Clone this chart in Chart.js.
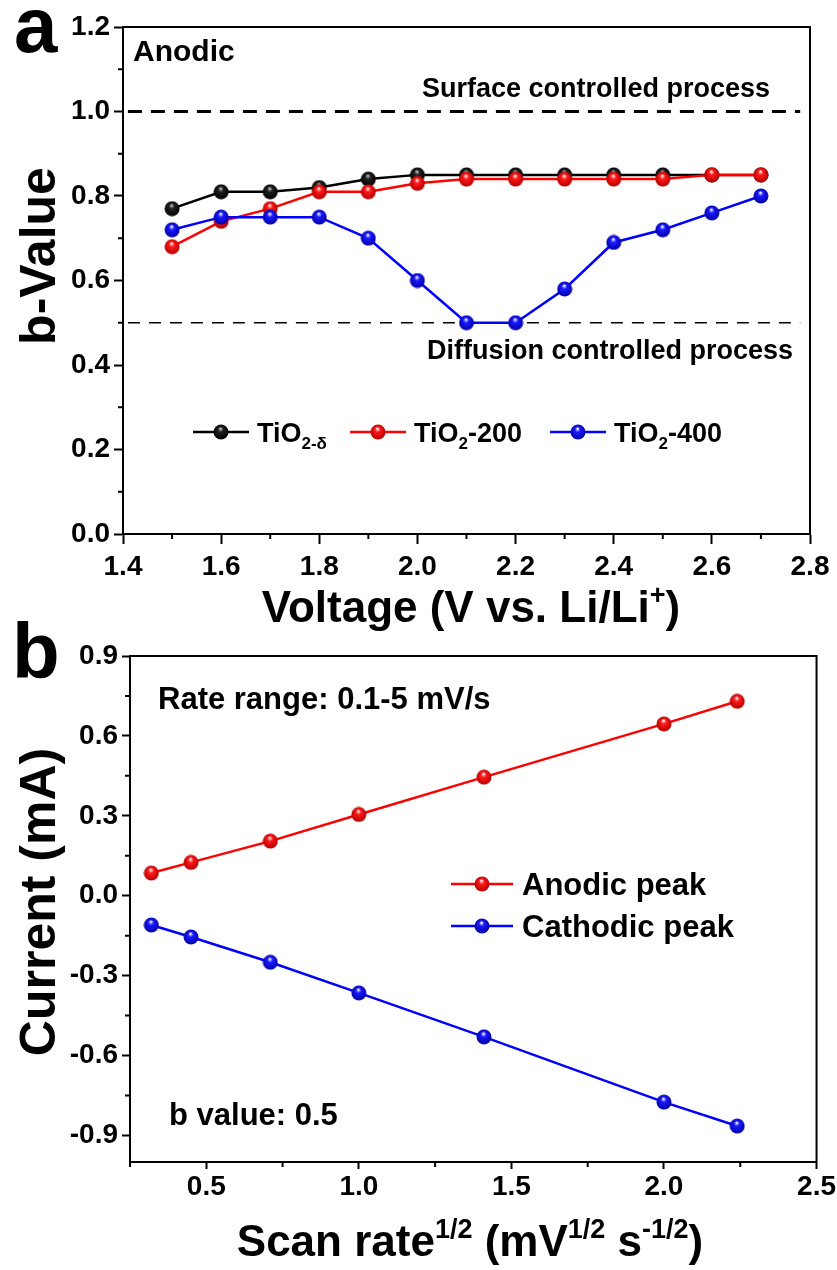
<!DOCTYPE html>
<html>
<head>
<meta charset="utf-8">
<script src="https://cdn.jsdelivr.net/npm/chart.js@4.4.1/dist/chart.umd.min.js"></script>
<style>
  html, body { margin: 0; padding: 0; background: #fff; }
  #page { position: relative; width: 837px; height: 1270px; }
  .panel { position: absolute; left: 0; width: 837px; }
  #panelA { top: 0; height: 640px; }
  #panelB { top: 600px; height: 670px; }
</style>
</head>
<body>
<div id="page">
  <div class="panel" id="panelA"><canvas id="chartA"></canvas></div>
  <div class="panel" id="panelB"><canvas id="chartB"></canvas></div>
</div>
<script>
// --- panel a: anodic b-values ---
const voltage = [1.5, 1.6, 1.7, 1.8, 1.9, 2.0, 2.1, 2.2, 2.3, 2.4, 2.5, 2.6, 2.7];
const bTiO2Delta = [0.77, 0.81, 0.81, 0.82, 0.84, 0.85, 0.85, 0.85, 0.85, 0.85, 0.85, 0.85, 0.85];
const bTiO2200 = [0.68, 0.74, 0.77, 0.81, 0.81, 0.83, 0.84, 0.84, 0.84, 0.84, 0.84, 0.85, 0.85];
const bTiO2400 = [0.72, 0.75, 0.75, 0.75, 0.70, 0.60, 0.50, 0.50, 0.58, 0.69, 0.72, 0.76, 0.80];
const refLineX = [1.41, 2.78];
const surfaceLimit = [1.0, 1.0];
const diffusionLimit = [0.5, 0.5];
const voltTicks = [1.4, 1.6, 1.8, 2.0, 2.2, 2.4, 2.6, 2.8];
const voltMinor = [1.5, 1.7, 1.9, 2.1, 2.3, 2.5, 2.7];
const bTicks = [0.0, 0.2, 0.4, 0.6, 0.8, 1.0, 1.2];
const bMinor = [0.1, 0.3, 0.5, 0.7, 0.9, 1.1];

// --- panel b: peak current vs sqrt(scan rate) ---
const sqrtRate = [0.32, 0.45, 0.71, 1.0, 1.41, 2.0, 2.24];
const anodicPeak = [0.085, 0.125, 0.205, 0.305, 0.445, 0.645, 0.73];
const cathodicPeak = [-0.11, -0.155, -0.25, -0.365, -0.53, -0.775, -0.865];
const rateTicks = [0.5, 1.0, 1.5, 2.0, 2.5];
const rateMinor = [0.25, 0.75, 1.25, 1.75, 2.25];
const currentTicks = [-0.9, -0.6, -0.3, 0.0, 0.3, 0.6, 0.9];
const currentMinor = [-0.75, -0.45, -0.15, 0.15, 0.45, 0.75];

const FONT = "'Liberation Sans', Arial, Helvetica, sans-serif";

function ball(color, shade, light) {
  const size = 16;
  const c = document.createElement('canvas');
  c.width = size;
  c.height = size;
  const g = c.getContext('2d');
  const r = size / 2;
  const grad = g.createRadialGradient(r - 0.5, r - 3.5, 0.3, r, r, r);
  grad.addColorStop(0, light);
  grad.addColorStop(0.3, color);
  grad.addColorStop(1, shade);
  g.fillStyle = grad;
  g.beginPath();
  g.arc(r, r, r - 0.5, 0, Math.PI * 2);
  g.fill();
  return c;
}

const balls = {
  black: ball('#202020', '#000000', '#c8c8c8'),
  red: ball('#ff1a1a', '#b00000', '#ffffff'),
  blue: ball('#1a1aff', '#0000a0', '#ffffff'),
};

const pts = (xs, ys) => xs.map((x, i) => ({ x, y: ys[i] }));

// text with sub/superscripts: parts = [[text, 'sub'|'sup'|undefined], ...]
function richText(ctx, parts, x, y, size, align) {
  const fontFor = (k) => `bold ${k ? Math.round(size * 0.62) : size}px ${FONT}`;
  const widths = parts.map(([t, k]) => {
    ctx.font = fontFor(k);
    return ctx.measureText(t).width;
  });
  const total = widths.reduce((a, b) => a + b, 0);
  let cx = align === 'center' ? x - total / 2 : align === 'right' ? x - total : x;
  ctx.textAlign = 'left';
  ctx.textBaseline = 'alphabetic';
  parts.forEach(([t, k], i) => {
    ctx.font = fontFor(k);
    const dy = k === 'sup' ? -size * 0.4 : k === 'sub' ? size * 0.28 : 0;
    ctx.fillText(t, cx, y + dy);
    cx += widths[i];
  });
}

function legendItem(ctx, x, y, len, gap, color, img, parts, size) {
  ctx.strokeStyle = color;
  ctx.lineWidth = 2.5;
  ctx.beginPath();
  ctx.moveTo(x, y);
  ctx.lineTo(x + len, y);
  ctx.stroke();
  ctx.drawImage(img, x + len / 2 - img.width / 2, y - img.height / 2);
  richText(ctx, parts, x + gap, y + size * 0.36, size, 'left');
}

function frameAndMinor(chart, minorX, minorY) {
  const { ctx, chartArea: a, scales } = chart;
  ctx.save();
  ctx.strokeStyle = '#000';
  ctx.lineWidth = 2;
  ctx.strokeRect(a.left, a.top, a.right - a.left, a.bottom - a.top);
  ctx.beginPath();
  minorX.forEach((v) => {
    const px = scales.x.getPixelForValue(v);
    ctx.moveTo(px, a.bottom);
    ctx.lineTo(px, a.bottom + 5);
  });
  minorY.forEach((v) => {
    const py = scales.y.getPixelForValue(v);
    ctx.moveTo(a.left - 5, py);
    ctx.lineTo(a.left, py);
  });
  ctx.stroke();
  ctx.restore();
}

function axisStyle(min, max, ticks, fixed, tickLength, padding) {
  return {
    type: 'linear',
    min,
    max,
    afterBuildTicks: (scale) => {
      scale.ticks = ticks.map((value) => ({ value }));
    },
    afterFit: fixed,
    ticks: {
      color: '#000',
      font: { family: FONT, size: 28, weight: 'bold' },
      padding,
      callback: (v) => Number(v).toFixed(1),
    },
    grid: {
      drawOnChartArea: false,
      drawTicks: true,
      tickLength,
      tickWidth: 2,
      tickColor: '#000',
    },
    border: { display: true, color: '#000', width: 2 },
  };
}

function lineSet(data, color, img, order) {
  return {
    data,
    showLine: true,
    borderColor: color,
    backgroundColor: color,
    borderWidth: 2.5,
    pointStyle: img,
    order,
  };
}

function refSet(data, width, dash) {
  return {
    data,
    showLine: true,
    borderColor: '#000',
    borderWidth: width,
    borderDash: dash,
    pointRadius: 0,
    order: 5,
  };
}

const baseOptions = {
  responsive: true,
  maintainAspectRatio: false,
  animation: false,
  events: [],
  plugins: { legend: { display: false }, tooltip: { enabled: false } },
};

// ---------- chart a ----------
new Chart(document.getElementById('chartA'), {
  type: 'scatter',
  data: {
    datasets: [
      lineSet(pts(voltage, bTiO2400), '#0000ff', balls.blue, 0),
      lineSet(pts(voltage, bTiO2200), '#ff0000', balls.red, 1),
      lineSet(pts(voltage, bTiO2Delta), '#000000', balls.black, 2),
      refSet(pts(refLineX, surfaceLimit), 3, [14, 9]),
      refSet(pts(refLineX, diffusionLimit), 1.5, [12, 9]),
    ],
  },
  options: {
    ...baseOptions,
    layout: { padding: { top: 27, right: 27, left: 0, bottom: 0 } },
    scales: {
      x: axisStyle(1.4, 2.8, voltTicks, (s) => { s.height = 106; }, 10, 6),
      y: axisStyle(0, 1.2, bTicks, (s) => { s.width = 123; }, 9, 4),
    },
  },
  plugins: [{
    id: 'panelA',
    afterDraw(chart) {
      frameAndMinor(chart, voltMinor, bMinor);
      const { ctx, chartArea: a } = chart;
      ctx.save();
      ctx.fillStyle = '#000';
      richText(ctx, [['a']], 14, 52, 78, 'left');
      richText(ctx, [['Anodic']], a.left + 10, 61, 30, 'left');
      richText(ctx, [['Surface controlled process']], 770, 97, 27, 'right');
      richText(ctx, [['Diffusion controlled process']], 793, 359, 27, 'right');
      legendItem(ctx, 193, 432, 56, 64, '#000000', balls.black, [['TiO'], ['2-δ', 'sub']], 27);
      legendItem(ctx, 350, 432, 56, 64, '#ff0000', balls.red, [['TiO'], ['2', 'sub'], ['-200']], 27);
      legendItem(ctx, 550, 432, 56, 64, '#0000ff', balls.blue, [['TiO'], ['2', 'sub'], ['-400']], 27);
      richText(ctx, [['Voltage (V vs. Li/Li'], ['+', 'sup'], [')']], 471, 622, 44, 'center');
      ctx.translate(55, 256);
      ctx.rotate(-Math.PI / 2);
      richText(ctx, [['b-Value']], 0, 0, 50, 'center');
      ctx.restore();
    },
  }],
});

// ---------- chart b ----------
new Chart(document.getElementById('chartB'), {
  type: 'scatter',
  data: {
    datasets: [
      lineSet(pts(sqrtRate, anodicPeak), '#ff0000', balls.red, 1),
      lineSet(pts(sqrtRate, cathodicPeak), '#0000ff', balls.blue, 0),
    ],
  },
  options: {
    ...baseOptions,
    layout: { padding: { top: 56, right: 19, left: 0, bottom: 0 } },
    scales: {
      x: axisStyle(0.25, 2.5, rateTicks, (s) => { s.height = 108; }, 7, 1),
      y: axisStyle(-1.0, 0.9, currentTicks, (s) => { s.width = 130; }, 8, 4),
    },
  },
  plugins: [{
    id: 'panelB',
    afterDraw(chart) {
      frameAndMinor(chart, rateMinor, currentMinor);
      const { ctx } = chart;
      ctx.save();
      ctx.fillStyle = '#000';
      richText(ctx, [['b']], 12, 78, 78, 'left');
      richText(ctx, [['Rate range: 0.1-5 mV/s']], 158, 109, 31, 'left');
      richText(ctx, [['b value: 0.5']], 169, 525, 31, 'left');
      legendItem(ctx, 451, 284, 62, 71, '#ff0000', balls.red, [['Anodic peak']], 31);
      legendItem(ctx, 451, 326, 62, 71, '#0000ff', balls.blue, [['Cathodic peak']], 31);
      richText(ctx, [['Scan rate'], ['1/2', 'sup'], [' (mV'], ['1/2', 'sup'], [' s'], ['-1/2', 'sup'], [')']], 470, 656, 44, 'center');
      ctx.translate(55, 302);
      ctx.rotate(-Math.PI / 2);
      richText(ctx, [['Current (mA)']], 0, 0, 50, 'center');
      ctx.restore();
    },
  }],
});
</script>
</body>
</html>
